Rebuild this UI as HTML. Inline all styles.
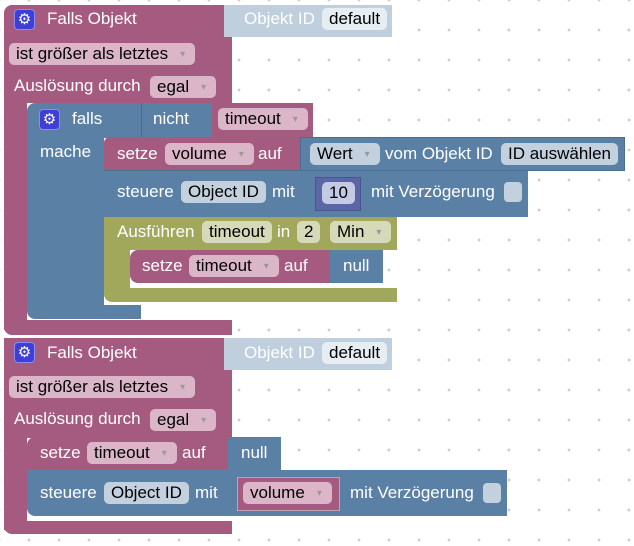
<!DOCTYPE html>
<html><head><meta charset="utf-8"><style>
*{margin:0;padding:0;box-sizing:border-box}
body{width:634px;height:546px;overflow:hidden;position:relative;background:#fff;
background-image:radial-gradient(circle,#ccc 1.2px,transparent 1.6px);background-size:30px 30px;background-position:14px -15px;
font-family:"Liberation Sans",Arial,sans-serif;font-size:17px;}
div{position:absolute}
.p{background:#a55b7f}
.b{background:#5b80a5}
.o{background:#a1a75b}
.m{background:#5b67a5}
.g{background:#bfcfdd}
.t{color:#fff;white-space:nowrap;line-height:20px}
.f{border-radius:5px;color:#000;white-space:nowrap;line-height:22px;height:22px;padding:0 7px}
.fp{background:#dbb6c8}
.fb{background:#c3d1df}
.fo{background:#d6dab8}
.fw{background:#e6edf3}
.fm{background:#c4c9e4}
.ar{padding-right:10px}
.ar:after{content:"\25BE";font-size:10px;color:#999;padding-left:12px;vertical-align:2px}
.gear{width:21px;height:21px;border-radius:4px;background:#3f3fd8;border:1px solid #8b8bf0;color:#fff;font-size:15px;line-height:19px;text-align:center}
.chk{width:18px;height:20px;border-radius:4px;background:#c3d1df}
</style></head><body>

<!-- ===== Block 1 ===== -->
<div class="p" style="left:4px;top:5px;width:228px;height:98px;border-radius:8px 0 0 0"></div>
<div class="p" style="left:4px;top:100px;width:23px;height:230px"></div>
<div class="p" style="left:4px;top:320px;width:228px;height:15px;border-radius:0 0 0 8px"></div>
<div class="gear" style="left:14px;top:9px">&#9881;</div>
<div class="t" style="left:47px;top:9px">Falls Objekt</div>
<div class="g" style="left:224px;top:5px;width:168px;height:32px"></div>
<div class="t" style="left:244px;top:9px">Objekt ID</div>
<div class="f fw" style="left:322px;top:8px">default</div>
<div class="f fp ar" style="left:9px;top:43px">ist größer als letztes</div>
<div class="t" style="left:14px;top:76px">Auslösung durch</div>
<div class="f fp ar" style="left:150px;top:76px">egal</div>

<!-- falls block -->
<div class="b" style="left:27px;top:103px;width:114px;height:35px;border-radius:8px 0 0 0"></div>
<div class="b" style="left:27px;top:135px;width:77px;height:175px"></div>
<div class="b" style="left:27px;top:305px;width:114px;height:14px;border-radius:0 0 0 8px"></div>
<div class="gear" style="left:39px;top:109px">&#9881;</div>
<div class="t" style="left:72px;top:109px">falls</div>
<div class="t" style="left:40px;top:142px">mache</div>
<div class="b" style="left:141px;top:103px;width:72px;height:34px;border-left:1px solid #4a6d90"></div>
<div class="t" style="left:153px;top:109px">nicht</div>
<div class="p" style="left:212px;top:103px;width:101px;height:34px"></div>
<div class="f fp ar" style="left:218px;top:108px">timeout</div>

<!-- setze volume -->
<div class="p" style="left:104px;top:137px;width:197px;height:34px;border-radius:6px 0 0 0"></div>
<div class="t" style="left:117px;top:144px">setze</div>
<div class="f fp ar" style="left:165px;top:143px">volume</div>
<div class="t" style="left:258px;top:144px">auf</div>
<div class="b" style="left:300px;top:137px;width:325px;height:34px;border:1px solid #4a6d90"></div>
<div class="f fb ar" style="left:310px;top:143px">Wert</div>
<div class="t" style="left:385px;top:144px">vom Objekt ID</div>
<div class="f fb" style="left:501px;top:143px">ID auswählen</div>

<!-- steuere -->
<div class="b" style="left:104px;top:170px;width:424px;height:47px;border-top:1px solid #4a6d90"></div>
<div class="t" style="left:117px;top:182px">steuere</div>
<div class="f fb" style="left:181px;top:181px">Object ID</div>
<div class="t" style="left:272px;top:182px">mit</div>
<div class="m" style="left:315px;top:177px;width:46px;height:34px;border:1px solid #4a5590"></div>
<div class="f fm" style="left:322px;top:182px">10</div>
<div class="t" style="left:371px;top:182px">mit Verzögerung</div>
<div class="chk" style="left:504px;top:182px"></div>

<!-- Ausführen -->
<div class="o" style="left:104px;top:217px;width:293px;height:33px"></div>
<div class="o" style="left:104px;top:248px;width:26px;height:45px"></div>
<div class="o" style="left:104px;top:288px;width:293px;height:14px;border-radius:0 0 0 8px"></div>
<div class="t" style="left:117px;top:222px">Ausführen</div>
<div class="f fo" style="left:202px;top:221px">timeout</div>
<div class="t" style="left:277px;top:222px">in</div>
<div class="f fo" style="left:297px;top:221px">2</div>
<div class="f fo ar" style="left:330px;top:221px">Min</div>
<div class="p" style="left:130px;top:250px;width:201px;height:33px;border-radius:8px 0 0 8px"></div>
<div class="t" style="left:142px;top:256px">setze</div>
<div class="f fp ar" style="left:189px;top:255px">timeout</div>
<div class="t" style="left:284px;top:256px">auf</div>
<div class="b" style="left:330px;top:250px;width:53px;height:33px"></div>
<div class="t" style="left:343px;top:256px">null</div>

<!-- ===== Block 2 ===== -->
<div class="p" style="left:4px;top:338px;width:228px;height:100px"></div>
<div class="p" style="left:4px;top:430px;width:23px;height:100px"></div>
<div class="p" style="left:4px;top:521px;width:228px;height:13px;border-radius:0 0 0 8px"></div>
<div class="gear" style="left:14px;top:342px">&#9881;</div>
<div class="t" style="left:47px;top:343px">Falls Objekt</div>
<div class="g" style="left:224px;top:338px;width:168px;height:32px"></div>
<div class="t" style="left:244px;top:343px">Objekt ID</div>
<div class="f fw" style="left:322px;top:342px">default</div>
<div class="f fp ar" style="left:9px;top:376px">ist größer als letztes</div>
<div class="t" style="left:14px;top:409px">Auslösung durch</div>
<div class="f fp ar" style="left:150px;top:409px">egal</div>

<div class="p" style="left:27px;top:437px;width:202px;height:34px;border-radius:8px 0 0 0"></div>
<div class="t" style="left:40px;top:443px">setze</div>
<div class="f fp ar" style="left:87px;top:442px">timeout</div>
<div class="t" style="left:182px;top:443px">auf</div>
<div class="b" style="left:228px;top:437px;width:53px;height:34px"></div>
<div class="t" style="left:241px;top:443px">null</div>

<div class="b" style="left:27px;top:470px;width:480px;height:46px;border-radius:0 0 0 8px"></div>
<div class="t" style="left:40px;top:483px">steuere</div>
<div class="f fb" style="left:104px;top:482px">Object ID</div>
<div class="t" style="left:195px;top:483px">mit</div>
<div class="p" style="left:237px;top:477px;width:103px;height:34px;border:1px solid #c9a0b4"></div>
<div class="f fp ar" style="left:243px;top:482px">volume</div>
<div class="t" style="left:350px;top:483px">mit Verzögerung</div>
<div class="chk" style="left:483px;top:483px"></div>

</body></html>
